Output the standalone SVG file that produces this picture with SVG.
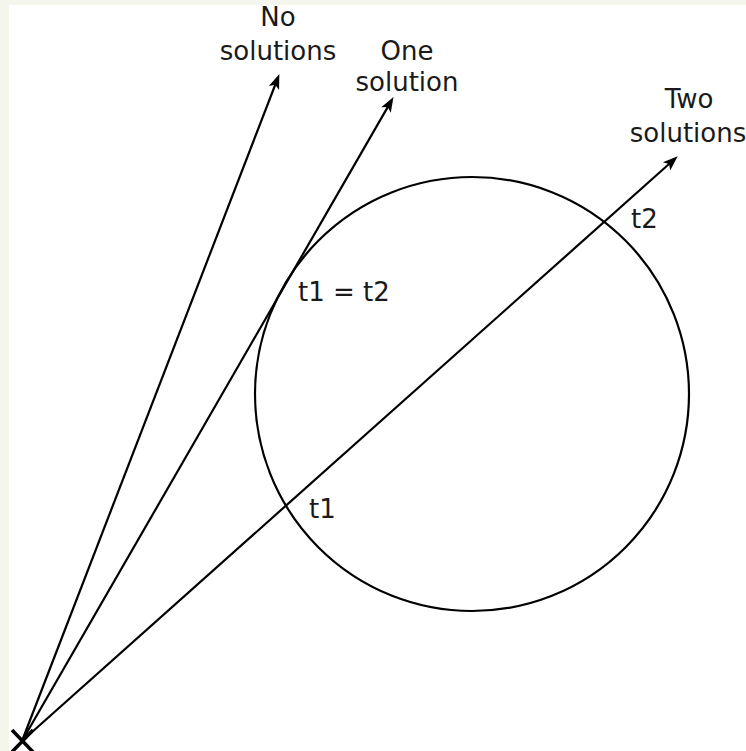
<svg xmlns="http://www.w3.org/2000/svg" width="746" height="751" viewBox="0 0 746 751">
  <style>
    .lbl { font-family: "DejaVu Sans", sans-serif; font-size: 26px; fill: #1a1a1a; text-anchor: middle; }
    .pt { font-family: "DejaVu Sans", sans-serif; font-size: 26px; fill: #1a1a1a; }
    .ray { stroke: #000; stroke-width: 2.2; fill: none; }
  </style>
  <defs>
    <marker id="arr" markerUnits="userSpaceOnUse" viewBox="-10 -7 22 14" markerWidth="22" markerHeight="14" refX="0" refY="0" orient="auto">
      <path d="M9,0 L-6,-5.5 L-2.5,0 L-6,5.5 Z" fill="#000"/>
    </marker>
  </defs>
  <rect x="0" y="0" width="746" height="751" fill="#ffffff"/>
  <rect x="0" y="0" width="746" height="5" fill="#f4f6ee"/>
  <rect x="0" y="0" width="9" height="751" fill="#f4f6ee"/>

  <g id="sphere">
    <circle cx="472" cy="394" r="217" fill="none" stroke="#000" stroke-width="2.2"/>
  </g>

  <g id="origin">
    <path d="M12,730 L33,752 M12,752 L33,730" stroke="#000" stroke-width="3.5" fill="none"/>
  </g>

  <g id="connectors">
    <line class="ray" x1="22" y1="741" x2="276.1" y2="82.5" marker-end="url(#arr)"/>
    <line class="ray" x1="22" y1="741" x2="389.0" y2="104.9" marker-end="url(#arr)"/>
    <line class="ray" x1="22" y1="741" x2="671.0" y2="162.3" marker-end="url(#arr)"/>
  </g>

  <g id="label-none">
    <text class="lbl" x="278" y="26">No</text>
    <text class="lbl" x="278" y="60">solutions</text>
  </g>
  <g id="label-one">
    <text class="lbl" x="407" y="60">One</text>
    <text class="lbl" x="407" y="91">solution</text>
  </g>
  <g id="label-two">
    <text class="lbl" x="689" y="108">Two</text>
    <text class="lbl" x="688" y="142">solutions</text>
  </g>
  <g id="label-tangent">
    <text class="pt" x="298" y="301">t1 = t2</text>
  </g>
  <g id="label-t1">
    <text class="pt" x="309" y="518">t1</text>
  </g>
  <g id="label-t2">
    <text class="pt" x="631" y="228">t2</text>
  </g>
</svg>
